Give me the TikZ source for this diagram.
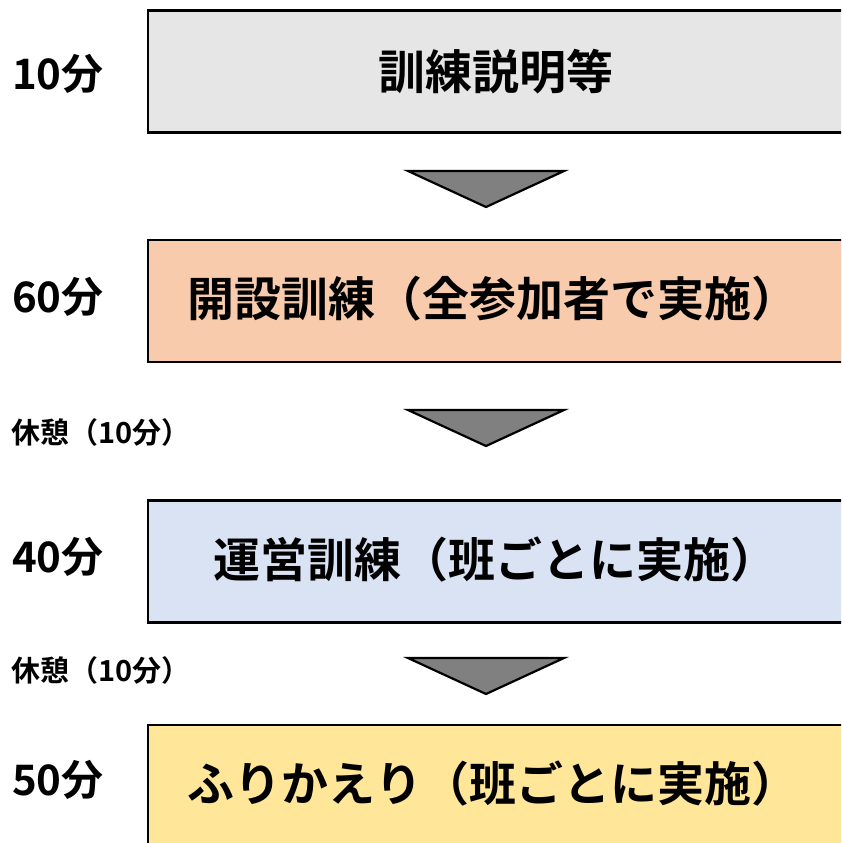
\documentclass[tikz,border=0pt]{standalone}
\usepackage{fontspec}
\setmainfont{Noto Sans CJK JP Bold}
\usetikzlibrary{positioning}

\definecolor{boxgray}{HTML}{E7E6E6}
\definecolor{boxorange}{HTML}{F8CBAD}
\definecolor{boxblue}{HTML}{DAE3F3}
\definecolor{boxyellow}{HTML}{FFE699}
\definecolor{arrowgray}{HTML}{808080}

\begin{document}
\begin{tikzpicture}[x=1pt, y=-1pt]
        \tikzstyle{block} = [rectangle, draw, line width=2.4pt, minimum width=698pt, minimum height=122pt, inner sep=0pt]
        \tikzstyle{btext} = [font=\fontsize{47}{50}\selectfont]
        \tikzstyle{time} = [font=\fontsize{42}{45}\selectfont, anchor=west, inner sep=0pt]
        \tikzstyle{rest} = [font=\fontsize{29}{32}\selectfont, anchor=west, inner sep=0pt]
        \tikzstyle{down} = [draw, line width=2.2pt, fill=arrowgray, line join=miter]

        \useasboundingbox (0,0) rectangle (841,843);
        \clip (0,0) rectangle (841,843);

        % boxes
        \node [block, fill=boxgray] (explain) at (497,71.5) {};
        \node [block, fill=boxorange] (opening) at (497,301) {};
        \node [block, fill=boxblue] (operation) at (497,561.5) {};
        \node [block, fill=boxyellow] (review) at (497,786) {};

        \node [btext] (explaintext) at (496,72) {訓練説明等};
        \node [btext] (openingtext) at (493,299) {開設訓練（全参加者で実施）};
        \node [btext] (operationtext) at (495,560) {運営訓練（班ごとに実施）};
        \node [btext] (reviewtext) at (493,784) {ふりかえり（班ごとに実施）};

        % times
        \node [time] (t1) at (12,74) {10分};
        \node [time] (t2) at (12,297) {60分};
        \node [time] (t3) at (12,557) {40分};
        \node [time] (t4) at (12,780) {50分};
        \node [rest] (r1) at (11,432) {休憩（10分）};
        \node [rest] (r2) at (11,670) {休憩（10分）};

        % arrows
        \foreach \y in {171,410,658}
            \draw [down] (408,\y) -- (564,\y) -- (486,\y+36) -- cycle;
    \end{tikzpicture}
\end{document}
